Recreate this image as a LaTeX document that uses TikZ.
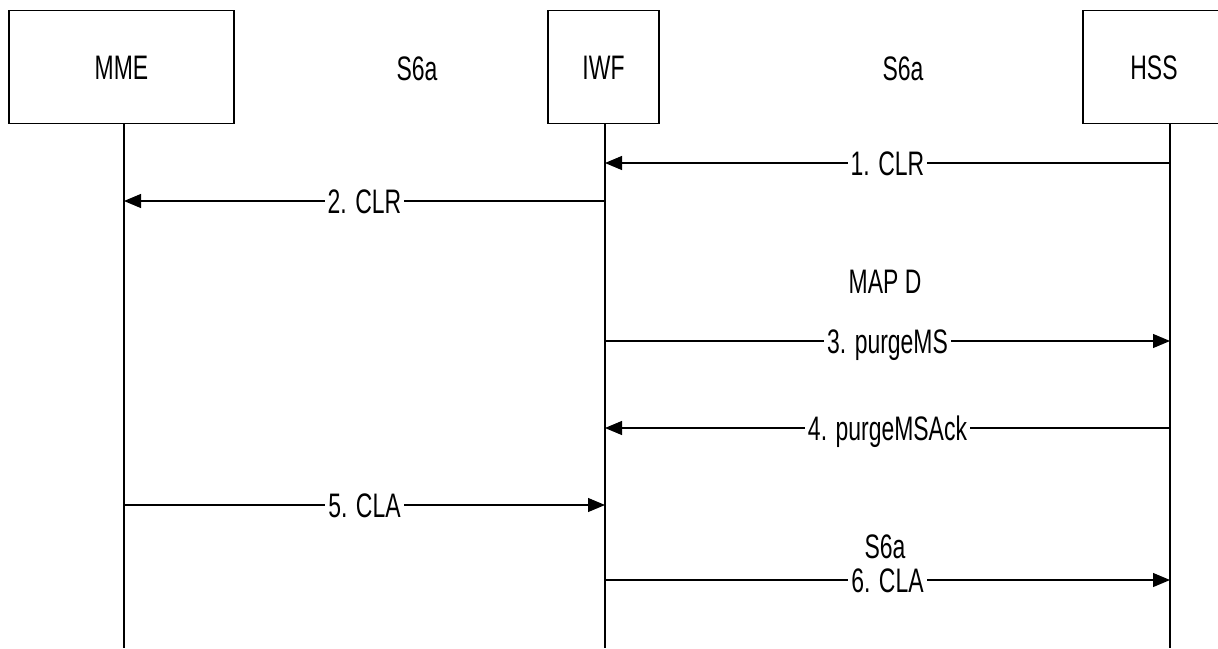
\documentclass[tikz,border=0pt]{standalone}
\usepackage{fontspec}
\setmainfont{Liberation Sans}[FakeStretch=0.675]
\usetikzlibrary{arrows.meta}

\begin{document}
\begin{tikzpicture}[x=1pt, y=-1pt, >={Triangle[length=17pt, width=14pt]}, line width=1.1pt,
    every node/.style={font=\fontsize{34}{40}\selectfont, text height=24.3pt, text depth=0pt},
    entity/.style={draw, minimum height=113pt, inner sep=0pt},
    lbl/.style={fill=white, inner xsep=3pt, inner ysep=0pt}]
  \path[use as bounding box, clip] (0,0) rectangle (1218,648);

  % Entities
  \node[entity, minimum width=225pt] (mme) at (121.5,67) {MME};
  \node[entity, minimum width=111pt] (iwf) at (603.5,67) {IWF};
  \node[entity, minimum width=142pt] (hss) at (1154,67) {HSS};

  % Interfaces
  \node (s6aL) at (417,68) {S6a};
  \node (s6aR) at (903,68) {S6a};
  \node (mapd) at (885,281) {MAP D};
  \node (s6aB) at (885,546) {S6a};

  % Lifelines
  \coordinate (mmeTop) at (124,123.5);
  \coordinate (iwfTop) at (605,123.5);
  \coordinate (hssTop) at (1170,123.5);
  \coordinate (mmeBot) at (124,648);
  \coordinate (iwfBot) at (605,648);
  \coordinate (hssBot) at (1170,648);
  \draw (mmeTop) -- (mmeBot);
  \draw (iwfTop) -- (iwfBot);
  \draw (hssTop) -- (hssBot);

  % Messages
  \draw[->] (hssTop |- 0,163) -- node[lbl] {1. CLR} (iwfTop |- 0,163);
  \draw[->] (iwfTop |- 0,201) -- node[lbl] {2. CLR} (mmeTop |- 0,201);
  \draw[->] (iwfTop |- 0,341) -- node[lbl] {3. purgeMS} (hssTop |- 0,341);
  \draw[->] (hssTop |- 0,428) -- node[lbl] {4. purgeMSAck} (iwfTop |- 0,428);
  \draw[->] (mmeTop |- 0,505) -- node[lbl] {5. CLA} (iwfTop |- 0,505);
  \draw[->] (iwfTop |- 0,580) -- node[lbl] {6. CLA} (hssTop |- 0,580);
\end{tikzpicture}
\end{document}
